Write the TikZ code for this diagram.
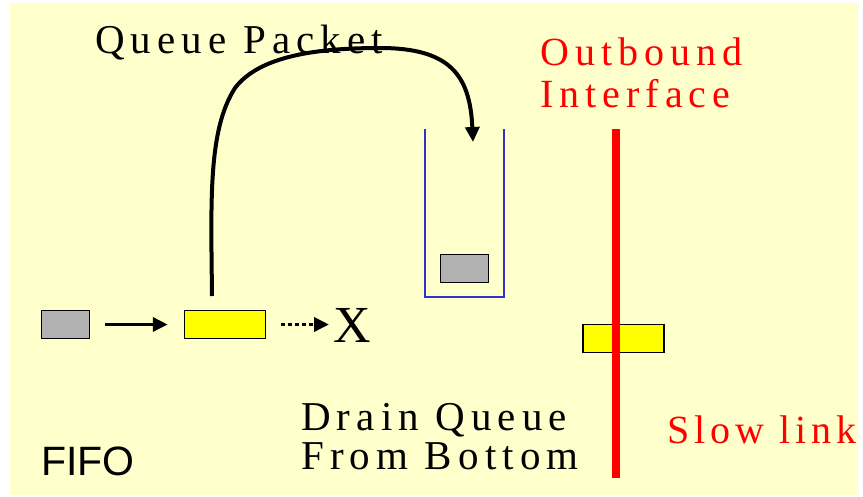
\documentclass[tikz,border=0pt]{standalone}
\usepackage{fontspec}
\usetikzlibrary{arrows.meta}
\setmainfont{Liberation Serif}
\newfontfamily\spacedserif[LetterSpace=15]{Liberation Serif}
\newfontfamily\tighterserif[LetterSpace=12.5]{Liberation Serif}
\newfontfamily\plainsans{Liberation Sans}
\definecolor{paper}{HTML}{FFFFCC}
\definecolor{pktgray}{HTML}{B2B2B2}
\definecolor{pktyellow}{HTML}{FFFF00}
\definecolor{queueblue}{HTML}{3333CC}
\definecolor{linkred}{HTML}{FF0000}
\tikzset{
  packet/.style={draw=black, line width=1.5pt, inner sep=0pt, minimum height=28pt},
  graypkt/.style={packet, fill=pktgray, minimum width=48pt},
  yellowpkt/.style={packet, fill=pktyellow, minimum width=81pt},
  label40/.style={inner sep=0pt, anchor=base west, font=\spacedserif\fontsize{41}{41}\selectfont},
  redlabel/.style={inner sep=0pt, anchor=base west, text=linkred, font=\spacedserif\fontsize{40}{40}\selectfont},
  flow/.style={line width=3.5pt, -{Triangle[length=15pt,width=14pt]}},
}
\begin{document}
\begin{tikzpicture}[x=1pt,y=-1pt]
  \useasboundingbox (0,0) rectangle (863,496);
  \fill[paper] (10,3) rectangle (858,495);

  % the queue (open at the top)
  \coordinate (qtl) at (425,129);
  \coordinate (qbl) at (425,296.5);
  \coordinate (qbr) at (504,296.5);
  \coordinate (qtr) at (504,129);
  \draw[queueblue, line width=2pt] (qtl) -- (qbl) -- (qbr) -- (qtr);

  % packets
  \node[graypkt] (inpkt) at (65.5,324.5) {};
  \node[yellowpkt] (newpkt) at (225,324.5) {};
  \node[graypkt] (queued) at (464.5,268.5) {};
  \node[yellowpkt] (sending) at (623.5,338.5) {};

  % outbound slow link
  \coordinate (linktop) at (616,129);
  \coordinate (linkbot) at (616,478);
  \draw[linkred, line width=8pt] (linktop) -- (linkbot);

  % drop marker
  \node[inner sep=0pt, anchor=base west, font=\fontsize{52}{52}\selectfont] (drop) at (333,342) {X};

  % arrows
  \draw[flow, shorten <=15pt, shorten >=16pt] (inpkt.east) -- (newpkt.west);
  \draw[flow, dash pattern=on 4pt off 3pt, shorten <=15pt, shorten >=4pt] (newpkt.east) -- (drop.west |- newpkt.east);
  \coordinate (enq) at (212,296);
  \coordinate (qin) at (473,142);
  \draw[flow, line width=4pt] (enq) .. controls (211,200) and (208,130) .. (235,88)
     .. controls (260,55) and (320,48) .. (380,48)
     .. controls (450,48) and (470,75) .. (qin);

  % labels
  \node[label40] (qpkt) at (95,53) {Queue Packet};
  \node[redlabel] (out1) at (540,65.5) {Outbound};
  \node[redlabel] (out2) at (540,107.5) {Interface};
  \node[label40] (drain1) at (301,430) {Drain Queue};
  \node[label40] (drain2) at (301,469) {From Bottom};
  \node[redlabel, font=\tighterserif\fontsize{40}{40}\selectfont] (slow) at (667,443) {Slow link};
  \node[inner sep=0pt, anchor=base west, font=\plainsans\fontsize{41}{41}\selectfont] (fifo) at (41,475) {FIFO};
\end{tikzpicture}
\end{document}
